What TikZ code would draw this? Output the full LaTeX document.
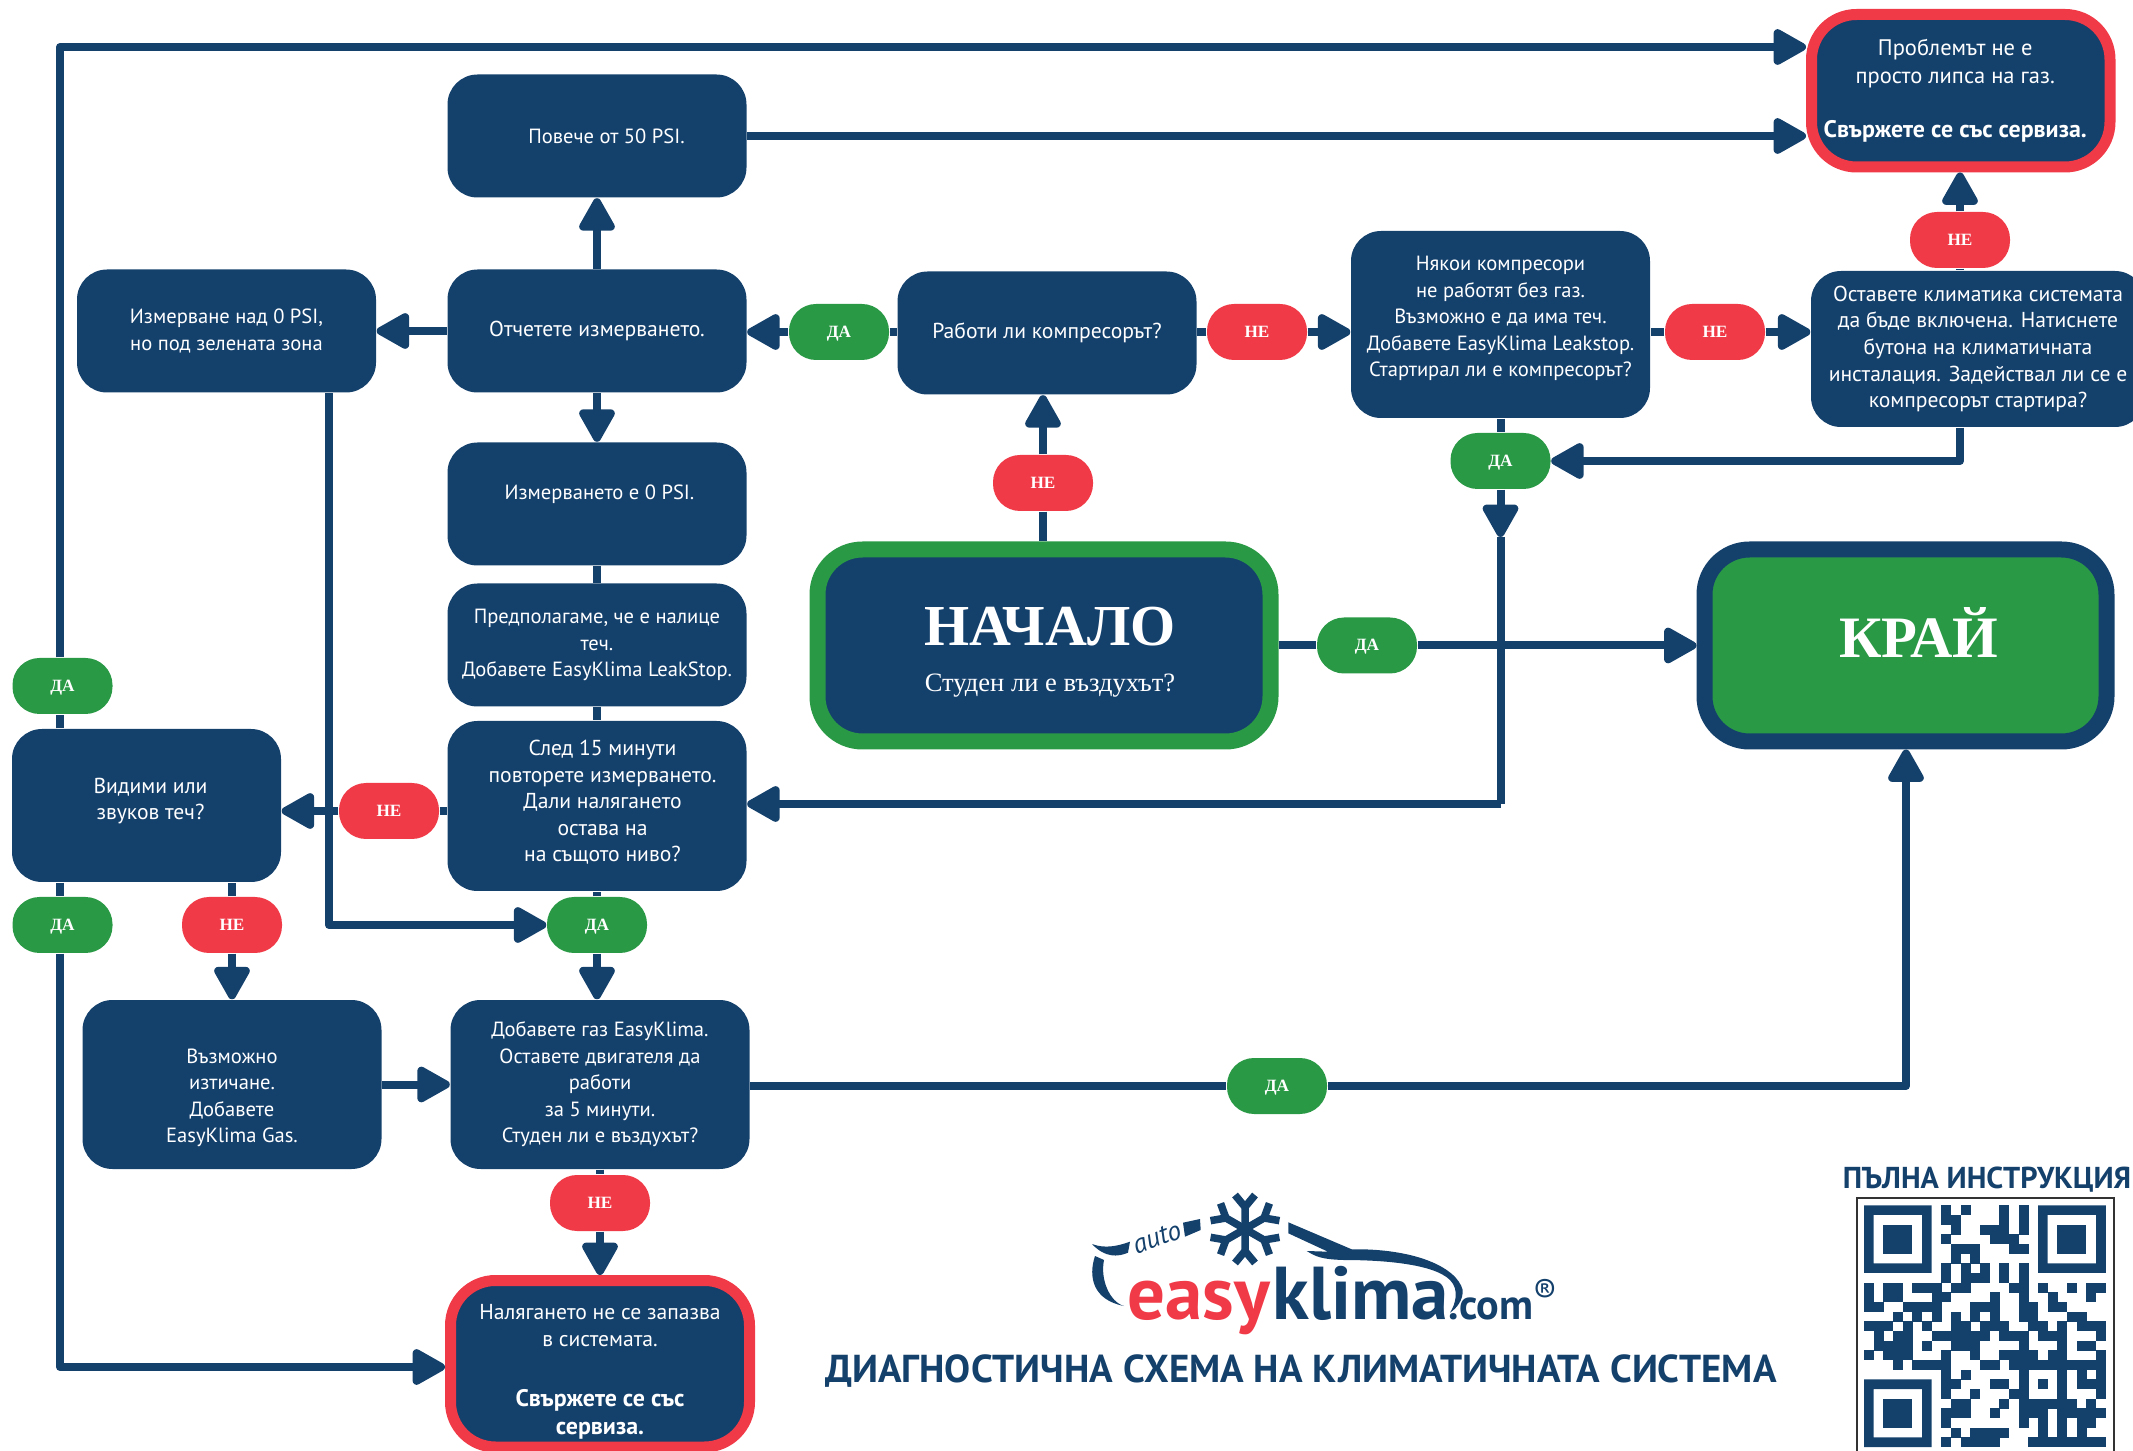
\documentclass[tikz,border=0pt]{standalone}
\usepackage{fontspec}
\setmainfont{PT Sans}
\newfontfamily\pillfont{Liberation Serif}
\usetikzlibrary{arrows.meta}
\definecolor{navy}{HTML}{14406C}
\definecolor{okgreen}{HTML}{2A9946}
\definecolor{nored}{HTML}{F03A47}
\newcommand{\qrrow}[2]{\foreach \qrc in {#2} {\fill[navy] (\qrc,#1) rectangle +(1.02,1.02);}}
\newcommand{\boldline}[1]{{\bfseries\fontsize{6.8}{7.6}\selectfont #1}}
\tikzset{
    flowbox/.style={rectangle, rounded corners=3mm, fill=navy, text=white, align=center, inner sep=0pt,
        minimum width=29.9mm, minimum height=12.3mm, font=\fontsize{6.15}{7.55}\selectfont},
    smalltext/.style={font=\fontsize{5.85}{7.55}\selectfont},
    redbox/.style={flowbox, draw=nored, line width=1.1mm, rounded corners=4.5mm},
    bigbox/.style={flowbox, line width=1.6mm, rounded corners=4.5mm, minimum height=19.2mm},
    pill/.style={rectangle, rounded corners=2.7mm, minimum width=10mm, minimum height=5.6mm, inner sep=0pt,
        text=white, text height=1.1mm, text depth=0pt, font=\pillfont\bfseries\fontsize{4.9}{6}\selectfont},
    dapill/.style={pill, fill=okgreen},
    nepill/.style={pill, fill=nored},
    flowline/.style={draw=navy, line width=0.8mm, line join=round},
    arrowline/.style={flowline, -{Triangle[length=3.7mm,width=3.9mm,round]}},
    logotext/.style={inner sep=0pt, anchor=base west, text=navy},
    headtext/.style={inner sep=0pt, text=navy, font=\bfseries\fontsize{11.08}{13}\selectfont}
}
\begin{document}
\begin{tikzpicture}[x=0.1mm,y=-0.1mm]
    \useasboundingbox (0,0) rectangle (2133,1451);
    \node[redbox, minimum width=29.85mm, minimum height=15.25mm, font=\fontsize{6.4}{7.8}\selectfont] (problem) at (1960.75,90.75) {\hspace*{-1.1mm}Проблемът не е\\\hspace*{-1.1mm}просто липса на газ.\\[7.55pt]\hspace*{-1.1mm}\boldline{Свържете се със сервиза.}};
    \node[flowbox, smalltext] (psi50) at (597,136) {\hspace*{1.9mm}Повече от 50 PSI.};
    \node[flowbox, smalltext] (nad0) at (226.5,331) {Измерване над 0 PSI,\\но под зелената зона};
    \node[flowbox] (otchet) at (597,331) {Отчетете измерването.};
    \node[flowbox] (rabot) at (1047,333) {Работи ли компресорът?};
    \node[flowbox, smalltext, minimum height=18.7mm] (nyakoi) at (1500.5,324.5) {Някои компресори\\не работят без газ.\\Възможно е да има теч.\\Добавете EasyKlima Leakstop.\\Стартирал ли е компресорът?\\[-1.09mm]};
    \node[flowbox, minimum width=33.4mm, minimum height=15.6mm] (ostav) at (1978,349) {Оставете климатика системата\\да бъде включена. Натиснете\\бутона на климатичната\\инсталация. Задействал ли се е\\компресорът  стартира?};
    \node[flowbox, smalltext] (izm0) at (597,504) {\hspace*{0.5mm}Измерването е 0 PSI.\\[-0.27mm]};
    \node[flowbox, smalltext] (predp) at (597,645) {Предполагаме, че е налице\\теч.\\Добавете EasyKlima LeakStop.};
    \node[flowbox, minimum height=17mm] (sled) at (597,806) {\hspace*{1.1mm}След 15 минути\\\hspace*{1.1mm}повторете измерването.\\\hspace*{1.1mm}Дали налягането\\\hspace*{1.1mm}остава на\\\hspace*{1.1mm}на същото ниво?\\[-1.63mm]};
    \node[flowbox, minimum width=26.9mm, minimum height=15.3mm] (vidimi) at (146.5,805.5) {\hspace*{0.8mm}Видими или\\\hspace*{0.8mm}звуков теч?\\[-1.36mm]};
    \node[flowbox, smalltext, minimum height=16.9mm] (vazm) at (232,1084.5) {Възможно\\изтичане.\\Добавете\\EasyKlima Gas.\\[-4.9mm]};
    \node[flowbox, smalltext, minimum height=16.9mm] (dobavi) at (600,1084.5) {Добавете газ EasyKlima.\\Оставете двигателя да\\работи\\за 5 минути.\\Студен ли е въздухът?};
    \node[redbox, minimum height=16.65mm, font=\fontsize{6.15}{7.9}\selectfont] (nalyag) at (600,1363.75) {Налягането не се запазва\\в системата.\\[9pt]\boldline{Свържете се със}\\\boldline{сервиза.}\\[-3.85mm]};
    \node[bigbox, draw=okgreen, minimum width=45.3mm] (nachalo) at (1044,645.5) {\hspace*{1.2mm}{\pillfont\bfseries\fontsize{16.5}{19}\selectfont НАЧАЛО}\\[2mm]\hspace*{1.2mm}{\pillfont\fontsize{7.55}{9}\selectfont Студен ли е въздухът?}\\[-3.4mm]};
    \node[bigbox, draw=navy, fill=okgreen, minimum width=40.2mm] (kraj) at (1905.5,645.5) {\hspace*{2.6mm}{\pillfont\bfseries\fontsize{16.7}{19}\selectfont КРАЙ}\\};
    \node[dapill] (daup) at (62.5,686) {ДА};
    \node[dapill] (dadown) at (62.5,925) {ДА};
    \node[nepill] (nevid) at (232,925) {НЕ};
    \node[nepill] (nesled) at (389,811) {НЕ};
    \node[dapill] (dasled) at (597,925) {ДА};
    \node[dapill] (darab) at (839,332) {ДА};
    \node[nepill] (nerab) at (1257,332) {НЕ};
    \node[nepill] (nenyak) at (1715,332) {НЕ};
    \node[nepill] (neost) at (1960,240) {НЕ};
    \node[dapill] (danyak) at (1500.5,461) {ДА};
    \node[nepill] (nenach) at (1043,483) {НЕ};
    \node[dapill] (danach) at (1367,645.5) {ДА};
    \node[dapill] (dadob) at (1277,1086) {ДА};
    \node[nepill] (nedob) at (600,1203) {НЕ};
    \coordinate (leftup) at (60,47);
    \coordinate (leftdown) at (60,1367);
    \coordinate (nadbend) at (329,925);
    \coordinate (nyakmid) at (1500.5,537);
    \coordinate (sledin) at (1500.5,804);
    \coordinate (krajin) at (1906,1086);
    \draw[flowline] (leftup |- vidimi.north) -- (leftup |- daup.south);
    \draw[arrowline] (leftup |- daup.north) -- (leftup) -- (leftup -| problem.west);
    \draw[arrowline] (psi50.east) -- (psi50.east -| problem.west);
    \draw[arrowline] (otchet) -- (psi50);
    \draw[arrowline] (otchet.west) -- (otchet.west -| nad0.east);
    \draw[arrowline] (otchet) -- (izm0);
    \draw[flowline] (darab.east) -- (darab.east -| rabot.west);
    \draw[arrowline] (darab.west) -- (darab.west -| otchet.east);
    \draw[flowline] (nenach.south) -- (nenach.south |- nachalo.north);
    \draw[arrowline] (nenach.north) -- (nenach.north |- rabot.south);
    \draw[flowline] (nerab.west) -- (nerab.west -| rabot.east);
    \draw[arrowline] (nerab.east) -- (nerab.east -| nyakoi.west);
    \draw[flowline] (nenyak.west) -- (nenyak.west -| nyakoi.east);
    \draw[arrowline] (nenyak.east) -- (nenyak.east -| ostav.west);
    \draw[flowline] (neost.south) -- (neost.south |- ostav.north);
    \draw[arrowline] (neost.north) -- (neost.north |- problem.south);
    \draw[arrowline] (neost.south |- ostav.south) -- (neost.south |- danyak.east) -- (danyak.east);
    \draw[flowline] (nyakoi) -- (danyak);
    \draw[arrowline] (danyak.south) -- (nyakmid);
    \draw[flowline] (nyakmid) -- (sledin);
    \draw[arrowline] (sledin) -- (sledin -| sled.east);
    \draw[flowline] (nachalo.east) -- (danach.west);
    \draw[arrowline] (danach.east) -- (danach.east -| kraj.west);
    \draw[flowline] (izm0) -- (predp);
    \draw[flowline] (predp) -- (sled);
    \draw[flowline] (nesled.east) -- (nesled.east -| sled.west);
    \draw[arrowline] (nesled.west) -- (nesled.west -| vidimi.east);
    \draw[arrowline] (nadbend |- nad0.south) -- (nadbend) -- (dasled.west);
    \draw[flowline] (dasled) -- (sled);
    \draw[arrowline] (dasled.south) -- (dasled.south |- dobavi.north);
    \draw[flowline] (leftdown |- vidimi.south) -- (leftdown |- dadown.north);
    \draw[arrowline] (leftdown |- dadown.south) -- (leftdown) -- (leftdown -| nalyag.west);
    \draw[flowline] (nevid.north) -- (nevid.north |- vidimi.south);
    \draw[arrowline] (nevid.south) -- (nevid.south |- vazm.north);
    \draw[arrowline] (vazm) -- (dobavi);
    \draw[flowline] (dadob.west -| dobavi.east) -- (dadob.west);
    \draw[arrowline] (dadob.east) -- (krajin) -- (krajin |- kraj.south);
    \draw[flowline] (dobavi) -- (nedob);
    \draw[arrowline] (nedob.south) -- (nedob.south |- nalyag.north);
    \node[headtext] (title) at (1301,1371) {ДИАГНОСТИЧНА СХЕМА НА КЛИМАТИЧНАТА СИСТЕМА};
    \node[headtext, font=\bfseries\fontsize{8.6}{10}\selectfont] (qrtitle) at (1987,1180) {ПЪЛНА ИНСТРУКЦИЯ};
    \draw[black!80, line width=0.2mm] (1856.5,1451) -- (1856.5,1198) -- (2113.5,1198) -- (2113.5,1451);
    \begin{scope}[shift={(1864,1205.3)},x=0.967mm,y=-0.967mm]
        \foreach \fx/\fy in {0/0,18/0,0/18} {
            \fill[navy, even odd rule] (\fx,\fy) rectangle +(7,7) ({\fx+1},{\fy+1}) rectangle +(5,5);
            \fill[navy] ({\fx+2},{\fy+2}) rectangle +(3,3);
        }
        \qrrow{0}{8,10,14,16}
        \qrrow{1}{8,9,14,16}
        \qrrow{2}{9,12,13,14,16}
        \qrrow{3}{8,13,14,15}
        \qrrow{4}{9,10,11,15,16}
        \qrrow{5}{9,11}
        \qrrow{6}{8,10,12,14,16}
        \qrrow{7}{8,10,11,12,14,16}
        \qrrow{8}{0,2,3,5,6,7,9,10,15,16,18,21,23,24}
        \qrrow{9}{0,2,3,7,8,13,16,19,23}
        \qrrow{10}{0,1,4,5,6,7,11,12,13,16,17,19,20}
        \qrrow{11}{3,5,7,9,11,13,16,17,21,22}
        \qrrow{12}{0,1,2,4,6,9,10,12,13,14,17,18,20,22,23,24}
        \qrrow{13}{1,3,4,7,8,9,10,11,12,14,15,16,18,19,20,24}
        \qrrow{14}{1,2,3,4,6,9,10,11,16,20,22,23}
        \qrrow{15}{0,2,3,4,8,11,14,15,16,17,19,20,24}
        \qrrow{16}{3,5,6,7,8,12,13,15,16,17,18,19,20,21,22,23,24}
        \qrrow{17}{8,10,16,20,22,24}
        \qrrow{18}{8,9,13,14,16,18,20,22,23,24}
        \qrrow{19}{8,11,15,16,20,24}
        \qrrow{20}{9,10,14,16,17,18,19,20,21,23}
        \qrrow{21}{8,9,10,13,16,17,18,20,21,22,23,24}
        \qrrow{22}{8,16,18,20,22,23}
        \qrrow{23}{9,11,12,13,14,18,20,22}
        \qrrow{24}{8,10,11,12,13,17,18,19,20,21,22,23,24}
    \end{scope}
    \begin{scope}[shift={(1245,1229)}]
        \foreach \a in {30,90,...,330} {
            \draw[navy, line width=0.75mm, rotate=\a] (0,0) -- (22,0) (34,10) -- (22,0) -- (34,-10);
        }
    \end{scope}
    \fill[navy] (1092,1244) .. controls (1105,1249) and (1118,1246) .. (1130,1241.7) -- (1128,1252.7) .. controls (1118,1257) and (1105,1258) .. (1092,1244);
    \fill[navy] (1183,1222.7) -- (1200,1219) -- (1200.7,1230) -- (1185,1236.7) -- cycle;
    \fill[navy] (1095,1256) .. controls (1088,1277) and (1093,1300) .. (1124,1306) .. controls (1110,1302) and (1100,1280) .. (1104,1260) -- cycle;
    \fill[navy] (1288.3,1222.3) -- (1351.7,1249.3) .. controls (1413.3,1248.3) and (1456.7,1266.7) .. (1462.7,1290)
        .. controls (1463.3,1300) and (1456.7,1308.3) .. (1450,1312.7)
        .. controls (1455,1305) and (1460,1290) .. (1450,1280)
        .. controls (1433.3,1263.3) and (1380,1260) .. (1343.3,1260)
        .. controls (1320,1259.3) and (1315,1256) .. (1306.7,1251)
        -- (1328,1251.7) -- (1288.3,1233.3) -- cycle;
    \node[logotext, text=nored, font=\bfseries\fontsize{21.3}{22}\selectfont] (logoeasy) at (1127,1319) {easy};
    \node[logotext, font=\bfseries\fontsize{21.3}{22}\selectfont] (logoklima) at (1272,1319) {klima};
    \node[logotext, font=\bfseries\fontsize{12}{13}\selectfont] (logocom) at (1448,1319) {.com};
    \node[logotext, anchor=center, font=\fontsize{10}{11}\selectfont] (logoreg) at (1545,1292) {®};
    \node[logotext, anchor=center, rotate=20, font=\fontsize{7.8}{9}\selectfont\itshape] (logoauto) at (1157,1238) {auto};
\end{tikzpicture}
\end{document}
